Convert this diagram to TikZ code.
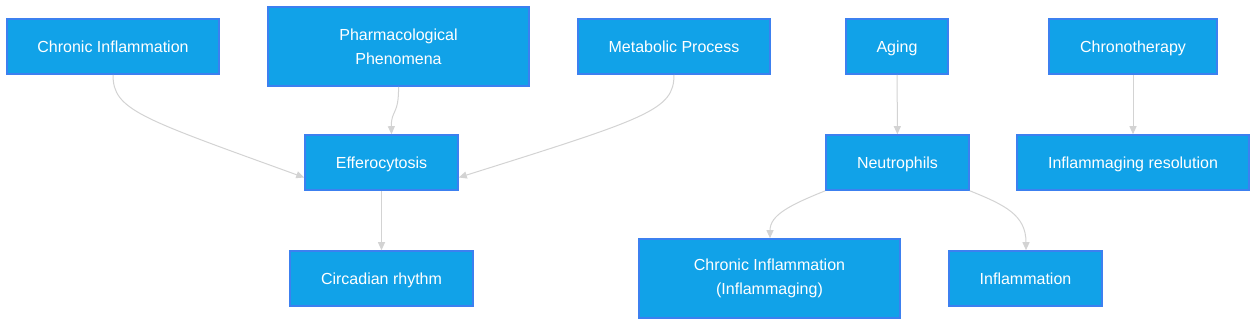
\documentclass[tikz,border=0pt]{standalone}
\usepackage{fontspec}
\setmainfont{Liberation Sans}
\usetikzlibrary{arrows.meta}
\definecolor{boxfill}{RGB}{17,162,232}
\definecolor{boxline}{RGB}{60,128,240}
\definecolor{edgegray}{RGB}{211,211,211}
\tikzset{
  box/.style={draw=boxline, line width=1.6pt, fill=boxfill, text=white,
    minimum height=55pt, inner sep=0pt, align=center,
    font=\fontsize{16}{24}\selectfont},
  onebox/.style={box, text height=13.5pt, text depth=1.5pt},
  edge/.style={draw=edgegray, line width=1pt,
    -{Triangle[length=8pt,width=7pt]}}
}
\begin{document}
\begin{tikzpicture}[x=1pt,y=-1pt]
\useasboundingbox (0,0) rectangle (1256,326);
% top row
\node[onebox, minimum width=212pt] (chronic) at (113,46.5) {Chronic Inflammation};
\node[box, minimum width=261pt, minimum height=79pt] (pharma) at (398.5,46.5) {Pharmacological\\Phenomena};
\node[onebox, minimum width=192pt] (metab) at (674,46.5) {Metabolic Process};
\node[onebox, minimum width=102pt] (aging) at (897,46.5) {Aging};
\node[onebox, minimum width=168pt] (chrono) at (1133,46.5) {Chronotherapy};
% middle row
\node[onebox, minimum width=153pt] (effero) at (381.5,162.5) {Efferocytosis};
\node[onebox, minimum width=143pt] (neutro) at (897.5,162.5) {Neutrophils};
\node[onebox, minimum width=232pt] (resol) at (1133,162.5) {Inflammaging resolution};
% bottom row
\node[onebox, minimum width=183pt] (circ) at (381.5,278.5) {Circadian rhythm};
\node[box, minimum width=261pt, minimum height=79pt] (inflamm) at (769.5,278.5) {Chronic Inflammation\\(Inflammaging)};
\node[onebox, minimum width=153pt] (infl) at (1025.5,278.5) {Inflammation};
% connectors
\draw[edge] (chronic.south) .. controls (113,110) and (140,118) .. ([yshift=-15pt]effero.west);
\draw[edge] (pharma.south) .. controls (399,115) and (391,110) .. ([xshift=10pt]effero.north);
\draw[edge] (metab.south) .. controls (674,110) and (648,118) .. ([yshift=-15pt]effero.east);
\draw[edge] (effero) -- (circ);
\draw[edge] (aging) -- (neutro);
\draw[edge] (chrono) -- (resol);
\draw[edge] (neutro.south west) .. controls (790,205) and (770,215) .. ([xshift=0.5pt]inflamm.north);
\draw[edge] (neutro.south east) .. controls (1005,205) and (1026,215) .. ([xshift=0.5pt]infl.north);
\end{tikzpicture}
\end{document}
